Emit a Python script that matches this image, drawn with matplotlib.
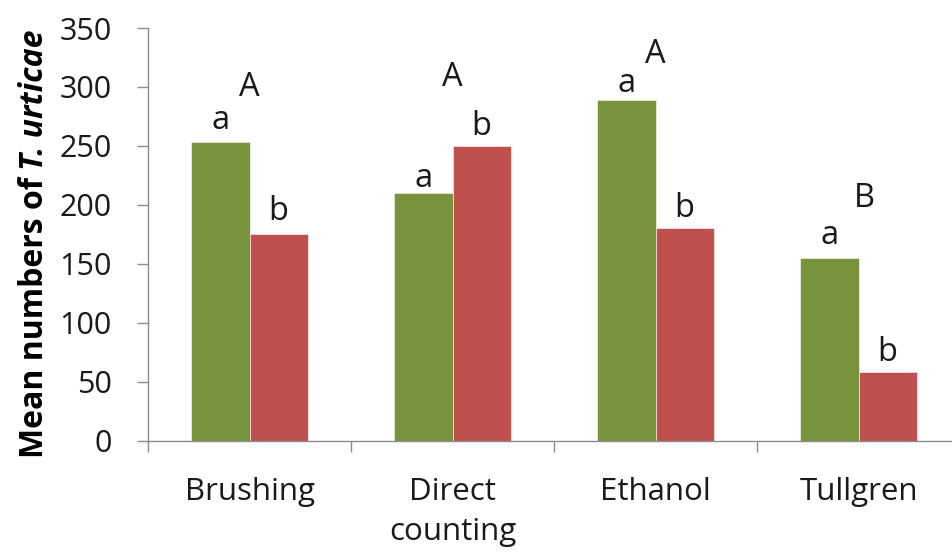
import matplotlib
matplotlib.use("Agg")
import matplotlib.pyplot as plt
import numpy as np

# Extraction methods and mean mite counts for the two series
methods = ["Brushing", "Direct\ncounting", "Ethanol", "Tullgren"]
series_green = [253, 210, 289, 155]
series_red = [175, 250, 180, 58]

# Significance letters
letters_green = ["a", "a", "a", "a"]
letters_red = ["b", "b", "b", "b"]
letters_group = ["A", "A", "A", "B"]

# Heights (baseline, in data units) where the letters are written
y_letters_green = [264, 215, 296, 167]
y_letters_red = [187, 259, 190, 68]
y_letters_group = [292, 301, 320, 198]
x_shift_group = [0.0, 0.0, 0.0, 0.03]

FONT = "Open Sans"
W, H = 952, 552
fig = plt.figure(figsize=(W / 100, H / 100), dpi=100)
ax = fig.add_axes([148 / W, 1 - 440.7 / H, (952 - 148) / W, (440.7 - 28) / H])

x = np.arange(len(methods))
bw = 0.286
ax.bar(x - bw / 2, series_green, bw, color="#77933C", edgecolor="white", linewidth=0.4)
ax.bar(x + bw / 2, series_red, bw, color="#C0504D", edgecolor="white", linewidth=0.4)

lsize = 23.5
for i in range(len(methods)):
    ax.text(x[i] - bw / 2, y_letters_green[i], letters_green[i], ha="center",
            va="baseline", fontsize=lsize, family=FONT, color="#1a1a1a")
    ax.text(x[i] + bw / 2, y_letters_red[i], letters_red[i], ha="center",
            va="baseline", fontsize=lsize, family=FONT, color="#1a1a1a")
    ax.text(x[i] + x_shift_group[i], y_letters_group[i], letters_group[i],
            ha="center", va="baseline", fontsize=lsize, family=FONT, color="#1a1a1a")

ax.set_xlim(-0.5, 3.5 - 8 / 203)
ax.set_ylim(0, 350)
ax.set_yticks(np.arange(0, 351, 50))
ax.tick_params(axis="y", length=8, width=1, color="#8c8c8c", pad=18,
               labelsize=22, labelcolor="#1a1a1a")
for lab in ax.get_yticklabels():
    lab.set_family(FONT)

# category boundaries carry the tick marks, names sit at the centres
ax.set_xticks([-0.5, 0.5, 1.5, 2.5])
ax.set_xticklabels([])
ax.tick_params(axis="x", which="major", length=8, width=1, color="#8c8c8c")
ax.set_xticks(x, minor=True)
ax.set_xticklabels(methods, minor=True, fontsize=22.5, family=FONT,
                   color="#1a1a1a", linespacing=1.45)
ax.tick_params(axis="x", which="minor", length=0, pad=26)

for s in ["top", "right"]:
    ax.spines[s].set_visible(False)
for s in ["left", "bottom"]:
    ax.spines[s].set_color("#8c8c8c")
    ax.spines[s].set_linewidth(1)

# y-axis title with the species name in italics
ysize = 23
x_base = 43 / W
y0 = 1 - 458 / H
t1 = fig.text(x_base, y0, "Mean numbers of", rotation=90, rotation_mode="anchor",
              ha="left", va="baseline", fontsize=ysize, family=FONT,
              fontweight="bold", color="black")
fig.canvas.draw()
bb = t1.get_window_extent()
y1 = (bb.y1 + 0.22 * ysize * 100 / 72) / H
fig.text(x_base, y1, "T. urticae", rotation=90, rotation_mode="anchor",
         ha="left", va="baseline", fontsize=ysize, family=FONT,
         fontweight="bold", fontstyle="italic", color="black")

fig.savefig("out.png", dpi=100, facecolor="white")
